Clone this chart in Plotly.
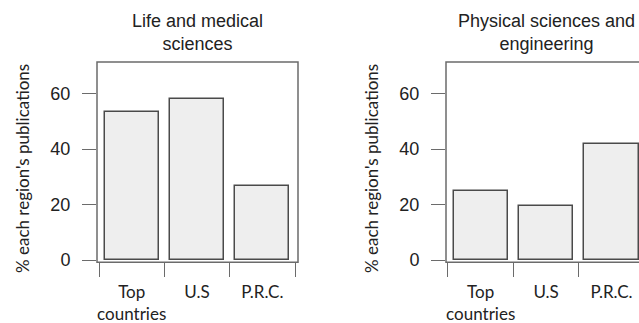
import plotly.graph_objects as go

# Share of each region's publications by field
categories = ["Top<br>countries", "U.S", "P.R.C."]
life_medical = [53.5, 58.2, 26.8]
physical_eng = [25.0, 19.4, 41.7]
panel_titles = ["Life and medical<br>sciences", "Physical sciences and<br>engineering"]
y_title = "% each region's publications"
y_ticks = [0, 20, 40, 60]
x_pos = [0, 1, 2]
x_bounds = [-0.5, 0.5, 1.5, 2.5]

W, H = 639, 323
LINE = "#6b6b6b"
TEXT = "#222222"
NUM_FONT = "Liberation Sans, Arial, sans-serif"
LBL_FONT = "Lato, Open Sans, sans-serif"

# panel geometry (pixels)
top_px, bot_px = 62, 262.3
panels = [(97, 298), (446, 647)]
y_dom = [1 - bot_px / H, 1 - top_px / H]

fig = go.Figure()

for i, vals in enumerate([life_medical, physical_eng]):
    xa = "x" if i == 0 else "x2"
    ya = "y" if i == 0 else "y2"
    fig.add_trace(go.Bar(
        x=x_pos, y=vals, width=0.83,
        marker=dict(color="#eeeeee", line=dict(color="#4a4a4a", width=1.5)),
        xaxis=xa, yaxis=ya, showlegend=False, hoverinfo="skip",
    ))

axis_common_y = dict(
    range=[-0.83, 71.43], domain=y_dom, automargin=False,
    tickmode="array", tickvals=y_ticks,
    ticks="outside", ticklen=14, tickwidth=1.2, tickcolor=LINE,
    ticklabelstandoff=8,
    showgrid=False, zeroline=False, showline=False,
    tickfont=dict(family=NUM_FONT, size=18, color=TEXT),
)
axis_common_x = dict(
    automargin=False,
    tickmode="array", tickvals=x_pos, ticktext=categories,
    ticks="", ticklabelstandoff=18,
    minor=dict(tickmode="array", tickvals=x_bounds, ticks="outside",
               ticklen=14, tickwidth=1.2, tickcolor=LINE, showgrid=False),
    showgrid=False, zeroline=False, showline=False,
    tickfont=dict(family=LBL_FONT, size=17, color=TEXT),
)

# first panel fully visible; second runs off the right edge of the page
x1_left, x1_right = panels[0]
fig.update_layout(
    xaxis=dict(domain=[x1_left / W, x1_right / W], range=[-0.531, 2.546],
               anchor="y", **axis_common_x),
    yaxis=dict(anchor="x", **axis_common_y),
    xaxis2=dict(domain=[panels[1][0] / W, 1.0], range=[-0.53, 2.42],
                anchor="y2", **axis_common_x),
    yaxis2=dict(anchor="x2", **axis_common_y),
)

shapes = []
annotations = []
for (l, r), title in zip(panels, panel_titles):
    shapes.append(dict(type="rect", xref="paper", yref="paper",
                       x0=l / W, x1=r / W, y0=y_dom[0], y1=y_dom[1],
                       line=dict(color=LINE, width=1.5), layer="above"))
    annotations.append(dict(text=title, xref="paper", yref="paper",
                            x=(l + r) / 2 / W, y=1 - 32 / H,
                            xanchor="center", yanchor="middle", showarrow=False,
                            font=dict(family=NUM_FONT, size=18, color=TEXT)))
    annotations.append(dict(text=y_title, xref="paper", yref="paper",
                            x=(l - 75) / W, y=1 - 169 / H, textangle=-90,
                            xanchor="center", yanchor="middle", showarrow=False,
                            font=dict(family=LBL_FONT, size=17, color=TEXT)))

fig.update_layout(
    width=W, height=H,
    margin=dict(l=0, r=0, t=0, b=0),
    paper_bgcolor="white", plot_bgcolor="white",
    shapes=shapes, annotations=annotations,
    bargap=0,
)

fig.write_html("out.html")
